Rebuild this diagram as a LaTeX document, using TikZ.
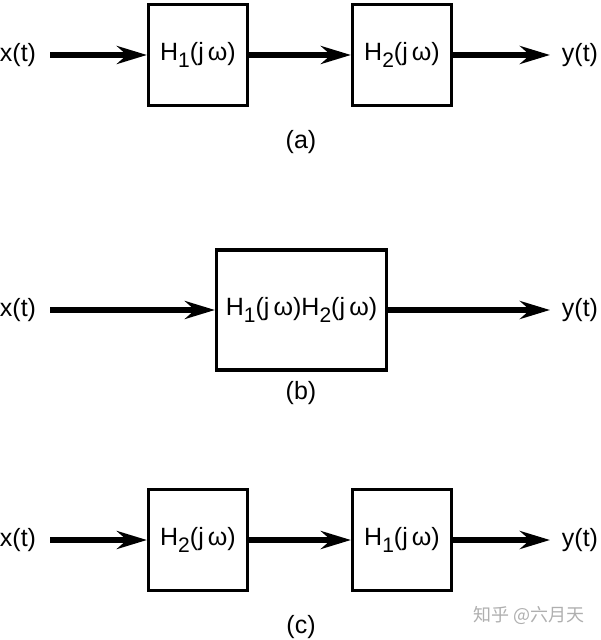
\documentclass[tikz,border=0pt]{standalone}
\usepackage{fontspec}
\setmainfont{Liberation Sans}
\newfontfamily\cjkfont{Noto Sans CJK SC}
\usetikzlibrary{arrows.meta}
\definecolor{MarkGray}{RGB}{175,175,175}
\newcommand{\lowidx}[1]{\raisebox{-3.5pt}{\fontsize{10.5}{10}\selectfont #1}}
\newcommand{\Hsys}[1]{H\lowidx{#1}(j\,ω)}
\tikzset{
  sysbox/.style={draw, line width=1.6pt, minimum width=49.5pt, minimum height=50.5pt,
                 inner sep=0pt, font=\fontsize{12.5}{14}\selectfont},
  sig/.style={inner sep=0pt, font=\fontsize{12.5}{14}\selectfont},
  partlabel/.style={inner sep=0pt, font=\fontsize{12.5}{14}\selectfont},
  arr/.style={-{Stealth[length=15pt,width=9pt,inset=5pt]}, line width=2.6pt},
}
\begin{document}
\begin{tikzpicture}[x=0.5pt, y=-0.5pt]
    \useasboundingbox (0,0) rectangle (600,640);

    % (a) H1 then H2
    \node[sig, outer xsep=7pt] (xa) at (18,55) {x(t)};
    \node[sysbox] (h1a) at (198,55) {\Hsys{1}};
    \node[sysbox] (h2a) at (402,55) {\Hsys{2}};
    \node[sig, outer xsep=6pt] (ya) at (580,55) {y(t)};
    \draw[arr] (xa) -- (h1a);
    \draw[arr] (h1a) -- (h2a);
    \draw[arr] (h2a) -- (ya);
    \node[partlabel] (laba) at (301,142) {(a)};

    % (b) product
    \node[sig, outer xsep=7pt] (xb) at (18,310) {x(t)};
    \node[sysbox, minimum width=85pt, minimum height=60pt] (hb) at (301.5,310) {\Hsys{1}\Hsys{2}};
    \node[sig, outer xsep=6pt] (yb) at (580,310) {y(t)};
    \draw[arr] (xb) -- (hb);
    \draw[arr] (hb) -- (yb);
    \node[partlabel] (labb) at (301,393) {(b)};

    % (c) H2 then H1
    \node[sig, outer xsep=7pt] (xc) at (18,540) {x(t)};
    \node[sysbox] (h2c) at (198,540) {\Hsys{2}};
    \node[sysbox] (h1c) at (402,540) {\Hsys{1}};
    \node[sig, outer xsep=6pt] (yc) at (580,540) {y(t)};
    \draw[arr] (xc) -- (h2c);
    \draw[arr] (h2c) -- (h1c);
    \draw[arr] (h1c) -- (yc);
    \node[partlabel] (labc) at (301,627) {(c)};

    % watermark
    \node[inner sep=0pt, text=MarkGray, font=\cjkfont\fontsize{9}{10}\selectfont] (mark) at (529,615) {知乎 @六月天};
\end{tikzpicture}
\end{document}
